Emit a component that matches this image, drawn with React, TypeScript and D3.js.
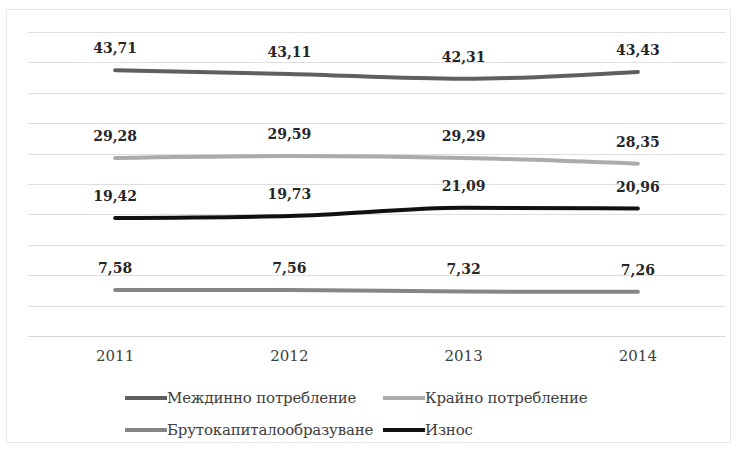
import React from "react";
import * as d3 from "d3";

const years = ["2011", "2012", "2013", "2014"];
const intermediate = [43.71, 43.11, 42.31, 43.43];
const finalCons = [29.28, 29.59, 29.29, 28.35];
const depreciation = [19.42, 19.73, 21.09, 20.96];
const grossCapital = [7.58, 7.56, 7.32, 7.26];
const yTicks = [0, 5, 10, 15, 20, 25, 30, 35, 40, 45, 50];

const seriesNames = [
  "Междинно потребление",
  "Крайно потребление",
  "Брутокапиталообразуване",
  "Износ",
];

const fmt = (v: number) => v.toFixed(2).replace(".", ",");
const FONT = "'DejaVu Serif', serif";

export default function App() {
  const W = 738;
  const H = 450;
  const x = d3.scaleBand<string>().domain(years).range([28, 725]);
  const y = d3.scaleLinear().domain([0, 50]).range([336, 32]);
  const cx = (d: string) => (x(d) ?? 0) + x.bandwidth() / 2;

  const series = [
    { name: seriesNames[0], values: intermediate, color: "#5f5f5f" },
    { name: seriesNames[1], values: finalCons, color: "#ababab" },
    { name: seriesNames[2], values: grossCapital, color: "#858585" },
    { name: seriesNames[3], values: depreciation, color: "#111111" },
  ];

  const line = d3
    .line<number>()
    .x((_, i) => cx(years[i]))
    .y((v) => y(v))
    .curve(d3.curveMonotoneX);

  const legendPos = [
    { x: 125, y: 398 },
    { x: 383, y: 398 },
    { x: 125, y: 430 },
    { x: 383, y: 430 },
  ];

  return (
    <div style={{ position: "absolute", left: 0, top: 0 }}>
      <svg width={W} height={H} style={{ display: "block", background: "#fff" }}>
        <rect x={6.5} y={9.5} width={724} height={433} fill="#fff" stroke="#e8e8e8" />
        {yTicks.map((t) => (
          <line
            key={t}
            x1={28}
            x2={725}
            y1={Math.round(y(t)) + 0.5}
            y2={Math.round(y(t)) + 0.5}
            stroke={t === 0 ? "#d4d6e0" : "#dedede"}
            strokeWidth={1}
          />
        ))}
        {series.map((s) => (
          <path
            key={s.name}
            d={line(s.values) ?? ""}
            fill="none"
            stroke={s.color}
            strokeWidth={4}
            strokeLinecap="round"
          />
        ))}
        {series.map((s) =>
          s.values.map((v, i) => (
            <text
              key={s.name + i}
              x={cx(years[i])}
              y={y(v) - 17}
              textAnchor="middle"
              style={{ fontFamily: FONT }}
              fontWeight="bold"
              fontSize={14}
              fill="#262626"
            >
              {fmt(v)}
            </text>
          ))
        )}
        {years.map((yr) => (
          <text
            key={yr}
            x={cx(yr)}
            y={361}
            textAnchor="middle"
            style={{ fontFamily: FONT }}
            fontSize={15}
            fill="#404040"
          >
            {yr}
          </text>
        ))}
        {series.map((s, i) => (
          <g key={s.name} transform={`translate(${legendPos[i].x},${legendPos[i].y})`}>
            <line x1={0} x2={42} y1={0} y2={0} stroke={s.color} strokeWidth={4} />
            <text
              x={42}
              y={0}
              dominantBaseline="central"
              style={{ fontFamily: FONT, letterSpacing: "-0.2px" }}
              fontSize={15}
              fill="#404040"
            >
              {s.name}
            </text>
          </g>
        ))}
      </svg>
    </div>
  );
}
